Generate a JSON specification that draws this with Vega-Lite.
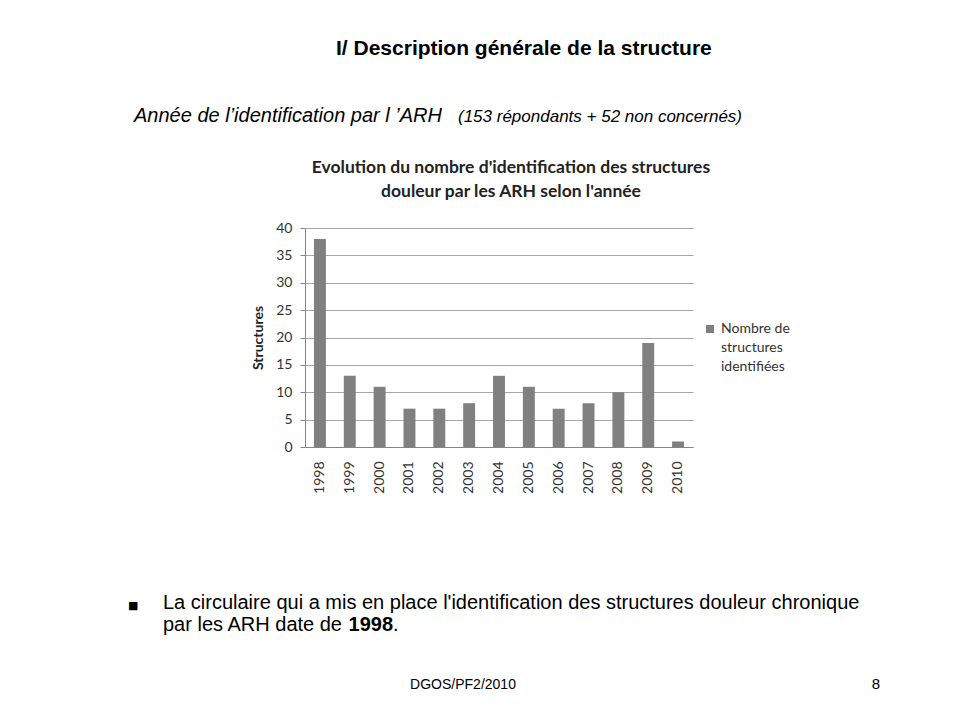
{
  "$schema": "https://vega.github.io/schema/vega-lite/v6.json",
  "width": 388,
  "height": 219,
  "autosize": {"type": "none"},
  "padding": {"left": 305, "top": 228, "right": 261, "bottom": 273},
  "background": "white",
  "config": {"view": {"stroke": null}, "font": "Lato"},
  "layer": [
    {
      "data": {
        "values": [
          {"annee": "1998", "structures": 38, "serie": "Nombre de\nstructures\nidentifiées"},
          {"annee": "1999", "structures": 13, "serie": "Nombre de\nstructures\nidentifiées"},
          {"annee": "2000", "structures": 11, "serie": "Nombre de\nstructures\nidentifiées"},
          {"annee": "2001", "structures": 7, "serie": "Nombre de\nstructures\nidentifiées"},
          {"annee": "2002", "structures": 7, "serie": "Nombre de\nstructures\nidentifiées"},
          {"annee": "2003", "structures": 8, "serie": "Nombre de\nstructures\nidentifiées"},
          {"annee": "2004", "structures": 13, "serie": "Nombre de\nstructures\nidentifiées"},
          {"annee": "2005", "structures": 11, "serie": "Nombre de\nstructures\nidentifiées"},
          {"annee": "2006", "structures": 7, "serie": "Nombre de\nstructures\nidentifiées"},
          {"annee": "2007", "structures": 8, "serie": "Nombre de\nstructures\nidentifiées"},
          {"annee": "2008", "structures": 10, "serie": "Nombre de\nstructures\nidentifiées"},
          {"annee": "2009", "structures": 19, "serie": "Nombre de\nstructures\nidentifiées"},
          {"annee": "2010", "structures": 1, "serie": "Nombre de\nstructures\nidentifiées"}
        ]
      },
      "mark": {"type": "bar"},
      "encoding": {
        "x": {
          "field": "annee",
          "type": "ordinal",
          "scale": {"paddingInner": 0.6, "paddingOuter": 0.3},
          "axis": {
            "title": null,
            "labelAngle": -90,
            "labelFont": "Lato",
            "labelFontSize": 14,
            "labelColor": "#333333",
            "ticks": false,
            "tickSize": 0,
            "labelPadding": 14,
            "domainColor": "#868686",
            "grid": false
          }
        },
        "y": {
          "field": "structures",
          "type": "quantitative",
          "scale": {"domain": [0, 40], "nice": false},
          "axis": {
            "values": [0, 5, 10, 15, 20, 25, 30, 35, 40],
            "title": "Structures",
            "titleFont": "Lato",
            "titleFontSize": 14,
            "titleFontWeight": "bold",
            "titleColor": "#222222",
            "titlePadding": 10,
            "labelFont": "Lato",
            "labelFontSize": 14,
            "labelColor": "#333333",
            "labelPadding": 8,
            "tickSize": 5,
            "tickColor": "#868686",
            "domainColor": "#868686",
            "grid": true,
            "gridColor": "#a6a6a6"
          }
        },
        "color": {
          "field": "serie",
          "type": "nominal",
          "scale": {"range": ["#808080"]},
          "legend": {
            "title": null,
            "orient": "none",
            "legendX": 398,
            "legendY": 94,
            "symbolType": "square",
            "symbolSize": 64,
            "labelFont": "Lato",
            "labelFontSize": 14,
            "labelColor": "#333333",
            "labelExpr": "split(datum.label, '\\n')",
            "encode": {"labels": {"update": {"lineHeight": {"value": 19}}}}
          }
        }
      }
    },
    {
      "data": {"values": [{"t": "Evolution du nombre d'identification des structures\ndouleur par les ARH selon l'année"}]},
      "mark": {"type": "text", "font": "Lato", "fontSize": 17.5, "fontWeight": "bold", "align": "center", "baseline": "alphabetic", "lineBreak": "\n", "lineHeight": 24, "dx": 12, "dy": -164.5, "color": "#222222"},
      "encoding": {"text": {"field": "t"}}
    },
    {
      "data": {"values": [{"t": "I/ Description générale de la structure"}]},
      "mark": {"type": "text", "font": "Liberation Sans", "fontSize": 21, "fontWeight": "bold", "align": "left", "baseline": "alphabetic", "dx": -163, "dy": -282.5, "color": "#000000"},
      "encoding": {"text": {"field": "t"}}
    },
    {
      "data": {"values": [{"t": "Année de l’identification par l ’ARH"}]},
      "mark": {"type": "text", "font": "Liberation Sans", "fontSize": 20, "fontStyle": "italic", "align": "left", "baseline": "alphabetic", "dx": -365, "dy": -215.5, "color": "#000000"},
      "encoding": {"text": {"field": "t"}}
    },
    {
      "data": {"values": [{"t": "(153 répondants + 52 non concernés)"}]},
      "mark": {"type": "text", "font": "Liberation Sans", "fontSize": 17, "fontStyle": "italic", "align": "left", "baseline": "alphabetic", "dx": -41, "dy": -215.5, "color": "#000000"},
      "encoding": {"text": {"field": "t"}}
    },
    {
      "data": {"values": [{"t": "■"}]},
      "mark": {"type": "text", "font": "DejaVu Sans", "fontSize": 11, "align": "left", "baseline": "alphabetic", "dx": -371, "dy": 271.5, "color": "#000000"},
      "encoding": {"text": {"field": "t"}}
    },
    {
      "data": {"values": [{"t": "La circulaire qui a mis en place l'identification des structures douleur chronique"}]},
      "mark": {"type": "text", "font": "Liberation Sans", "fontSize": 20, "align": "left", "baseline": "alphabetic", "dx": -336, "dy": 271.5, "color": "#000000"},
      "encoding": {"text": {"field": "t"}}
    },
    {
      "data": {"values": [{"t": "par les ARH date de"}]},
      "mark": {"type": "text", "font": "Liberation Sans", "fontSize": 20, "align": "left", "baseline": "alphabetic", "dx": -336, "dy": 293.5, "color": "#000000"},
      "encoding": {"text": {"field": "t"}}
    },
    {
      "data": {"values": [{"t": "1998"}]},
      "mark": {"type": "text", "font": "Liberation Sans", "fontSize": 20, "fontWeight": "bold", "align": "left", "baseline": "alphabetic", "dx": -150.4, "dy": 293.5, "color": "#000000"},
      "encoding": {"text": {"field": "t"}}
    },
    {
      "data": {"values": [{"t": "."}]},
      "mark": {"type": "text", "font": "Liberation Sans", "fontSize": 20, "align": "left", "baseline": "alphabetic", "dx": -105.9, "dy": 293.5, "color": "#000000"},
      "encoding": {"text": {"field": "t"}}
    },
    {
      "data": {"values": [{"t": "DGOS/PF2/2010"}]},
      "mark": {"type": "text", "font": "Liberation Sans", "fontSize": 14, "align": "center", "baseline": "alphabetic", "dx": -36, "dy": 351.5, "color": "#000000"},
      "encoding": {"text": {"field": "t"}}
    },
    {
      "data": {"values": [{"t": "8"}]},
      "mark": {"type": "text", "font": "Liberation Sans", "fontSize": 15, "align": "right", "baseline": "alphabetic", "dx": 381, "dy": 351.5, "color": "#000000"},
      "encoding": {"text": {"field": "t"}}
    }
  ]
}
